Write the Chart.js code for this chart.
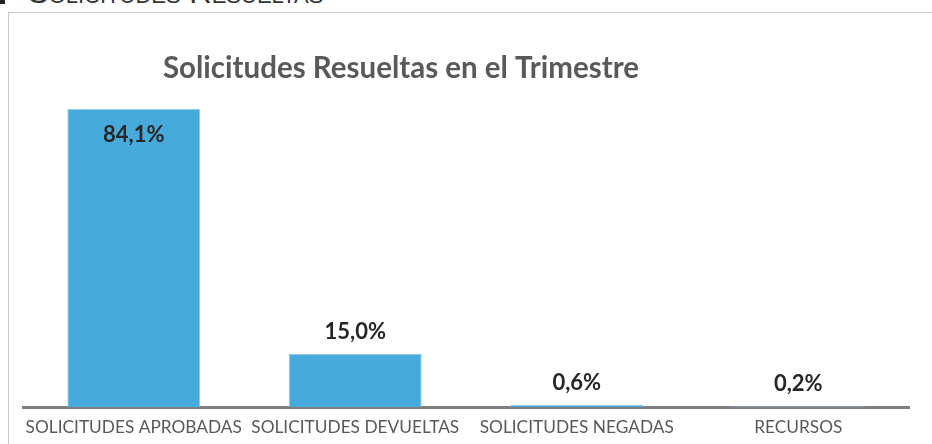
<!DOCTYPE html>
<html>
<head>
<meta charset="utf-8">
<script src="https://cdn.jsdelivr.net/npm/chart.js@4/dist/chart.umd.min.js"></script>
<style>
  html, body { margin: 0; padding: 0; background: #fff; overflow: hidden; }
  body { width: 932px; height: 444px; position: relative; }
  #encabezado {
    position: absolute; left: 0; top: -22px; height: 30px; line-height: 30px;
    font-family: "Liberation Sans", Arial, sans-serif; font-size: 31px;
    font-variant: small-caps; color: #333; white-space: nowrap;
  }
  #encabezado span.marca { display: inline-block; width: 5px; height: 26px; background: #222; margin-right: 23px; vertical-align: top; }
  #marco {
    position: absolute; left: 8px; top: 12px; width: 1000px; height: 500px;
    border: 1px solid #c9c9c9; box-sizing: border-box;
  }
  #grafica { position: absolute; left: 0; top: 0; }
</style>
</head>
<body>
<div id="encabezado"><span class="marca"></span>Solicitudes Resueltas</div>
<div id="marco"></div>
<canvas id="grafica" width="932" height="444"></canvas>
<script>
const categorias = ['SOLICITUDES APROBADAS', 'SOLICITUDES DEVUELTAS', 'SOLICITUDES NEGADAS', 'RECURSOS']
const porcentajes = [84.1, 15.0, 0.6, 0.2]
const titulo = 'Solicitudes Resueltas en el Trimestre'

const formato = v => v.toFixed(1).replace('.', ',') + '%'

// etiquetas de datos estilo Excel
const etiquetasDatos = {
    id: 'etiquetasDatos',
    afterDatasetsDraw(chart) {
        const ctx = chart.ctx
        const meta = chart.getDatasetMeta(0)
        ctx.save()
        ctx.font = 'bold 22px Lato, "Open Sans", sans-serif'
        ctx.fillStyle = '#262626'
        ctx.textAlign = 'center'
        meta.data.forEach((barra, i) => {
            const valor = chart.data.datasets[0].data[i]
            if (barra.y - 40 < chart.chartArea.top) {
                ctx.textBaseline = 'top'
                ctx.fillText(formato(valor), barra.x, barra.y + 15)
            } else {
                ctx.textBaseline = 'bottom'
                ctx.fillText(formato(valor), barra.x, barra.y - 11)
            }
        })
        ctx.restore()
    }
}

// titulo desplazado a la izquierda como en el original
const tituloGrafica = {
    id: 'tituloGrafica',
    afterDraw(chart) {
        const ctx = chart.ctx
        ctx.save()
        ctx.font = 'bold 29.5px Lato, "Open Sans", sans-serif'
        ctx.fillStyle = '#595959'
        ctx.textAlign = 'center'
        ctx.textBaseline = 'middle'
        ctx.fillText(titulo, 401, 68)
        ctx.restore()
    }
}

const $grafica = document.querySelector('#grafica')
new Chart($grafica, {
    type: 'bar',
    data: {
        labels: categorias,
        datasets: [{
            data: porcentajes,
            backgroundColor: '#46aadc',
            borderColor: '#8fcbeb',
            borderWidth: 1,
            categoryPercentage: 1,
            barPercentage: 0.6
        }]
    },
    options: {
        responsive: false,
        animation: false,
        layout: { padding: { left: 23, right: 23, top: 88, bottom: 0 } },
        plugins: {
            legend: { display: false },
            title: { display: false },
            tooltip: { enabled: false }
        },
        scales: {
            y: { display: false, min: 0, max: 90 },
            x: {
                grid: { display: false, drawTicks: false },
                border: { display: true, color: '#7f7f7f', width: 3 },
                ticks: {
                    color: '#595959',
                    padding: 10,
                    maxRotation: 0,
                    minRotation: 0,
                    autoSkip: false,
                    font: { family: 'Lato, "Open Sans", sans-serif', size: 17.3 }
                },
                afterFit(escala) { escala.height = 37 }
            }
        }
    },
    plugins: [etiquetasDatos, tituloGrafica]
})
</script>
</body>
</html>
